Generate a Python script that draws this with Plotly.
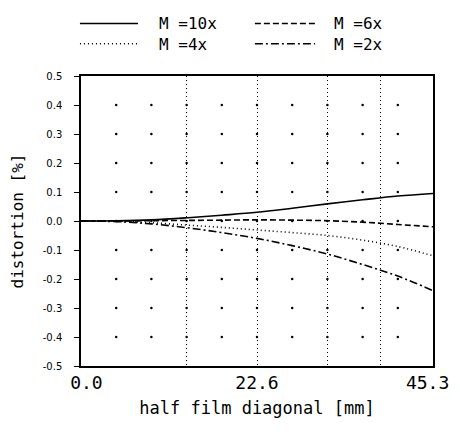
import numpy as np
import plotly.graph_objects as go

# ---- data ----
x_frac = [0.0, 0.1, 0.2, 0.3, 0.4, 0.5, 0.6, 0.7, 0.8, 0.9, 1.0]
half_diag_max = 45.3
x_mm = [round(f * half_diag_max, 2) for f in x_frac]

m10 = [0.0, 0.001, 0.004, 0.011, 0.020, 0.030, 0.044, 0.059, 0.073, 0.086, 0.095]
m6 = [0.0, 0.0, 0.001, 0.002, 0.003, 0.004, 0.003, 0.001, -0.004, -0.012, -0.020]
m4 = [0.0, -0.001, -0.006, -0.014, -0.022, -0.031, -0.040, -0.050, -0.066, -0.088, -0.120]
m2 = [0.0, -0.002, -0.010, -0.023, -0.040, -0.060, -0.085, -0.114, -0.150, -0.190, -0.240]

series_names = ["M =10x", "M =6x", "M =4x", "M =2x"]
series_values = [m10, m6, m4, m2]
series_dash = ["solid", "6px,3px", "1px,3px", "8px,3px,2px,3px"]

x_tick_vals = [0.0, 22.65, 45.3]
x_tick_text = ["\u00a00.0", "22.6", "45.3\u00a0"]
y_ticks = [-0.5, -0.4, -0.3, -0.2, -0.1, 0.0, 0.1, 0.2, 0.3, 0.4, 0.5]
v_dotted_frac = [0.3, 0.5, 0.7, 0.85]

# legend layout (paper coordinates): column starts and row heights
legend_cols = [(-0.003, 0.162, 0.215), (0.494, 0.665, 0.713)]
legend_rows = [1.181, 1.111]

FONT = "DejaVu Sans Mono"

fig = go.Figure()

# dotted grid points
gx, gy = [], []
for fx in x_frac[1:-1]:
    for yv in y_ticks[1:-1]:
        gx.append(fx * half_diag_max)
        gy.append(yv)
fig.add_trace(go.Scatter(x=gx, y=gy, mode="markers",
                         marker=dict(size=2.5, color="black"),
                         showlegend=False, hoverinfo="skip"))

col_texts = [[], []]
for i, (name, vals, dash) in enumerate(zip(series_names, series_values, series_dash)):
    fig.add_trace(go.Scatter(x=x_mm, y=vals, mode="lines", name=name,
                             showlegend=False,
                             line=dict(color="black", width=1.6, dash=dash,
                                       shape="spline")))
    c0, c1, ct = legend_cols[i % 2]
    ry = legend_rows[i // 2]
    fig.add_shape(type="line", xref="paper", yref="paper",
                  x0=c0, x1=c1, y0=ry, y1=ry,
                  line=dict(color="black", width=1.4, dash=dash))
    col_texts[i % 2].append(name)

for k, texts in enumerate(col_texts):
    fig.add_annotation(xref="paper", yref="paper", x=legend_cols[k][2],
                       y=sum(legend_rows) / 2,
                       xanchor="left", yanchor="middle", align="left",
                       showarrow=False, text="<br>".join(texts),
                       font=dict(family=FONT, size=16, color="black"))

fig.update_layout(
    width=451, height=425,
    margin=dict(l=73, r=26, t=68, b=67),
    paper_bgcolor="white", plot_bgcolor="white",
    font=dict(family=FONT, color="black"),
    showlegend=False,
    xaxis=dict(range=[0, half_diag_max], tickvals=x_tick_vals, ticktext=x_tick_text,
               showgrid=False, zeroline=False, showline=True, linecolor="black",
               linewidth=1.5, mirror=True, ticks="", automargin=False,
               ticklabeloverflow="allow",
               tickfont=dict(family=FONT, size=18),
               minor=dict(tickvals=[f * half_diag_max for f in v_dotted_frac],
                          showgrid=True, gridcolor="black", griddash="1px,3px",
                          gridwidth=1, ticks=""),
               title=dict(text="half film diagonal [mm]",
                          font=dict(family=FONT, size=17), standoff=10)),
    yaxis=dict(range=[-0.5, 0.5], tickvals=y_ticks,
               ticktext=[f"{v:.1f}" for v in y_ticks],
               showgrid=False, zeroline=False, showline=True, linecolor="black",
               linewidth=1.5, mirror=True, ticks="outside", ticklen=5,
               tickcolor="black", ticklabelstandoff=10, automargin=False,
               tickfont=dict(family="DejaVu Sans", size=10),
               title=dict(text="distortion [%]",
                          font=dict(family=FONT, size=16), standoff=16)),
)

fig.write_html("out.html")
